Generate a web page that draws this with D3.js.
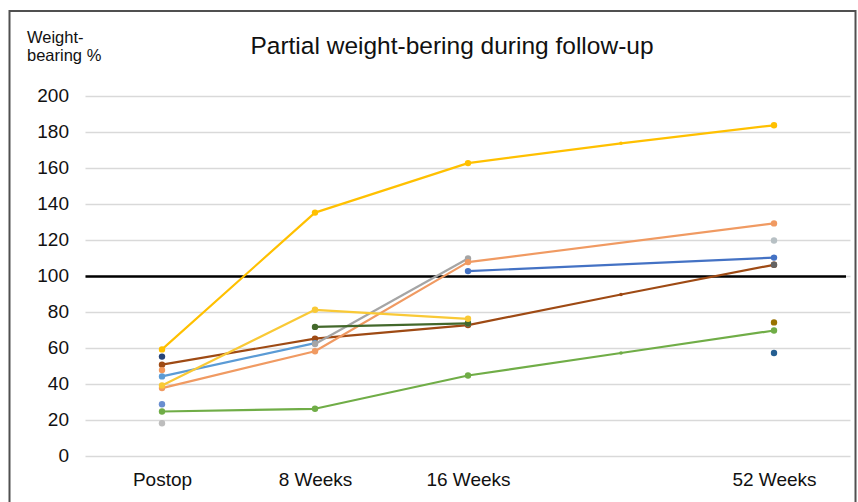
<!DOCTYPE html>
<html>
<head>
<meta charset="utf-8">
<script src="https://cdn.jsdelivr.net/npm/d3@7"></script>
<style>
  html, body { margin: 0; padding: 0; background: #fff; }
  svg { display: block; font-family: "Liberation Sans", Arial, Helvetica, sans-serif; }
</style>
</head>
<body>
<svg id="chart" width="858" height="502"></svg>
<script>
// ---- Data ----
const xLabels = ["Postop", "8 Weeks", "16 Weeks", "", "52 Weeks"];
const yTicks = [0, 20, 40, 60, 80, 100, 120, 140, 160, 180, 200];
const referenceValue = 100;
const chartTitle = "Partial weight-bering during follow-up";
const yTitle = ["Weight-", "bearing %"];

// per-patient series (null = not measured)
const greenSeries      = [25, 26.5, 45, 57.5, 70];
const brownSeries      = [51, 65.5, 73, 90, 106.5];
const lightBlueSeries  = [44.5, 63, null, null, null];
const lightBlueDot     = [null, null, 74, null, null];
const graySeries       = [null, 62.5, 110, null, null];
const orangeSeries     = [38, 58.5, 108, null, 129.5];
const blueSeries       = [null, null, 103, null, 110.5];
const darkGreenSeries  = [null, 72, 74, null, null];
const lightGoldSeries  = [39.5, 81.5, 76.5, null, null];
const goldSeries       = [59.5, 135.5, 163, 174, 184];
const navyDot          = [55.5, null, null, null, null];
const salmonDot        = [48, null, null, null, null];
const periwinkleDot    = [29, null, null, null, null];
const silverDotA       = [18.5, null, null, null, null];
const silverDotB       = [null, null, null, null, 120];
const darkGrayDot      = [null, null, null, null, 106.5];
const darkGoldDot      = [null, null, null, null, 74.5];
const darkBlueDot      = [null, null, null, null, 57.5];

const seriesList = [
  greenSeries, brownSeries, lightBlueSeries, lightBlueDot, graySeries, orangeSeries, blueSeries,
  darkGreenSeries, lightGoldSeries, goldSeries, navyDot, salmonDot, periwinkleDot,
  silverDotA, silverDotB, darkGrayDot, darkGoldDot, darkBlueDot
];
const seriesColors = [
  "#70AD47", "#9E4A14", "#5B9BD5", "#5B9BD5", "#A5A5A5", "#F09A62", "#4472C4",
  "#43682B", "#F9C936", "#FFC000", "#264478", "#F1975A", "#698ED0",
  "#BDBDBD", "#B7C0C4", "#636363", "#997300", "#255E91"
];

// ---- Layout ----
const svg = d3.select("#chart");
const W = 858, H = 502;
const plotLeft = 85.5, plotRight = 850.5, plotTop = 96.5, plotBottom = 456.5;

const x = d3.scalePoint().domain(d3.range(xLabels.length)).range([plotLeft, plotRight]).padding(0.5);
const y = d3.scaleLinear().domain([0, 200]).range([plotBottom, plotTop]);

svg.append("rect").attr("width", W).attr("height", H).attr("fill", "#fff");

// frame
svg.append("rect")
  .attr("x", 9.5).attr("y", 11)
  .attr("width", 846).attr("height", 520)
  .attr("fill", "none").attr("stroke", "#505050").attr("stroke-width", 2);

// gridlines
svg.append("g").selectAll("line").data(yTicks).join("line")
  .attr("x1", plotLeft).attr("x2", plotRight)
  .attr("y1", d => y(d)).attr("y2", d => y(d))
  .attr("stroke", "#D9D9D9").attr("stroke-width", 1.5);

// y axis tick labels
const yAxis = d3.axisLeft(y).tickValues(yTicks).tickSize(0).tickPadding(0);
const yg = svg.append("g").attr("transform", "translate(69,0)").call(yAxis);
yg.select(".domain").remove();
yg.selectAll("text").attr("font-size", 19).attr("fill", "#111")
  .attr("font-family", "'Liberation Sans', Arial, sans-serif")
  .attr("dy", "0.28em");

// x axis labels
const xAxis = d3.axisBottom(x).tickFormat(i => xLabels[i]).tickSize(0).tickPadding(0);
const xg = svg.append("g").attr("transform", "translate(0,472)").call(xAxis);
xg.select(".domain").remove();
xg.selectAll("text").attr("font-size", 19).attr("fill", "#111")
  .attr("font-family", "'Liberation Sans', Arial, sans-serif")
  .attr("dy", "0.75em");

// reference line
svg.append("line")
  .attr("x1", plotLeft).attr("x2", 846)
  .attr("y1", y(referenceValue)).attr("y2", y(referenceValue))
  .attr("stroke", "#000").attr("stroke-width", 2.5);

// series
const line = d3.line().x(d => x(d.i)).y(d => y(d.v));
seriesList.forEach((vals, k) => {
  const pts = vals.map((v, i) => ({ i, v })).filter(d => d.v !== null);
  const g = svg.append("g");
  if (pts.length > 1) {
    g.append("path").datum(pts).attr("d", line)
      .attr("fill", "none").attr("stroke", seriesColors[k])
      .attr("stroke-width", 2.2).attr("stroke-linejoin", "round");
  }
  g.selectAll("circle").data(pts).join("circle")
    .attr("cx", d => x(d.i)).attr("cy", d => y(d.v))
    .attr("r", d => d.i === 3 ? 1.8 : 3.2)
    .attr("fill", seriesColors[k]);
});

// title
svg.append("text")
  .attr("x", 452).attr("y", 54)
  .attr("text-anchor", "middle")
  .attr("font-size", 24.5).attr("fill", "#111")
  .text(chartTitle);

// y title
svg.append("text")
  .attr("x", 27).attr("y", 43)
  .attr("font-size", 16.5).attr("fill", "#111")
  .selectAll("tspan").data(yTitle).join("tspan")
  .attr("x", 27).attr("dy", (d, i) => i === 0 ? 0 : 18)
  .text(d => d);
</script>
</body>
</html>
